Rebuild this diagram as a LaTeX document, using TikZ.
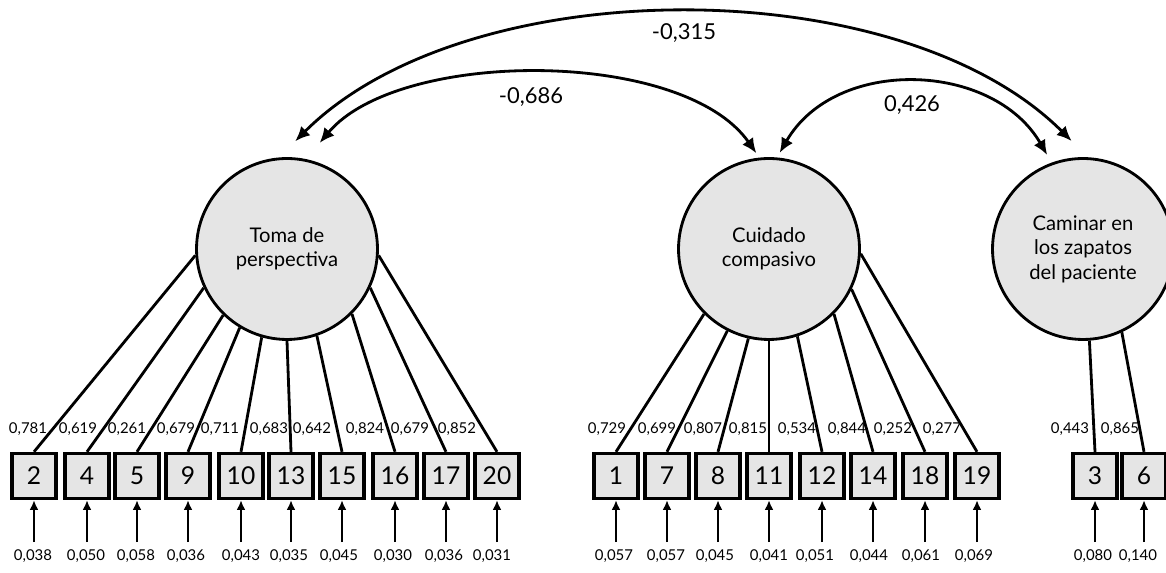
\documentclass[tikz,border=0pt]{standalone}
\usepackage{fontspec}
\setmainfont{Lato}
\usetikzlibrary{arrows.meta}

\begin{document}
\begin{tikzpicture}[x=0.02cm,y=0.02cm,
		factor/.style={circle,draw,line width=1.6pt,fill=gray!20,minimum size=3.62cm,inner sep=0pt,align=center,font=\fontsize{11.5}{14}\selectfont},
		item/.style={rectangle,draw,line width=1.9pt,fill=gray!20,minimum width=0.88cm,minimum height=0.9cm,inner sep=0pt,font=\fontsize{14}{16}\selectfont},
		coef/.style={font=\fontsize{8.5}{10}\selectfont,inner sep=1pt},
		corr/.style={line width=1.6pt,{Latex[length=8.5pt,width=7.5pt]}-{Latex[length=8.5pt,width=7.5pt]}},
		err/.style={line width=1.5pt,-{Latex[length=5.5pt,width=5pt]}}]
		\useasboundingbox (0,0) rectangle (1166,573);
		\clip (0,0) rectangle (1166,573);
		% factores latentes
		\node[factor] (tp) at (287,324) {Toma de\\perspectiva};
		\node[factor] (cc) at (769,324) {Cuidado\\compasivo};
		\node[factor] (cz) at (1083,324) {Caminar en\\los zapatos\\del paciente};
		% correlaciones
		\draw[corr,shorten <=13,shorten >=13] (tp.95) .. controls +(45:266) and +(135:266) .. (cz.87);
		\draw[corr,shorten <=12,shorten >=3] (tp.78) .. controls +(50:144) and +(125:134) .. (cc.96);
		\draw[corr,shorten <=3,shorten >=5] (cc.85) .. controls +(60:117) and +(120:117) .. (cz.110);
		\node[font=\fontsize{12.5}{14}\selectfont] (r1) at (684,540) {-0,315};
		\node[font=\fontsize{12.5}{14}\selectfont] (r2) at (531,476) {-0,686};
		\node[font=\fontsize{12.5}{14}\selectfont] (r3) at (912,468) {0,426};
		% items, cargas y errores
		\foreach \n/\f/\bx/\ang/\lx/\lv/\ex/\ev in {
				2/tp/34/184/28/{0,781}/33/{0,038},
				4/tp/87/205/78/{0,619}/86/{0,050},
				5/tp/137/226/127/{0,261}/136/{0,058},
				9/tp/188/239/176/{0,679}/186/{0,036},
				10/tp/241/254/220/{0,711}/241/{0,043},
				13/tp/291/270/269/{0,683}/289/{0,035},
				15/tp/342/289/312/{0,642}/339/{0,045},
				16/tp/395/315/365/{0,824}/393/{0,030},
				17/tp/446/335/410/{0,679}/444/{0,036},
				20/tp/497/356/457/{0,852}/492/{0,031},
				1/cc/616/225/607/{0,729}/614/{0,057},
				7/cc/667/243/657/{0,699}/666/{0,057},
				8/cc/718/257/703/{0,807}/715/{0,045},
				11/cc/769/270/748/{0,815}/769/{0,041},
				12/cc/822/288/797/{0,534}/815/{0,051},
				14/cc/873/315/847/{0,844}/869/{0,044},
				18/cc/925/334/893/{0,252}/921/{0,061},
				19/cc/977/357/942/{0,277}/974/{0,069},
				3/cz/1095/274/1070/{0,443}/1093/{0,080},
				6/cz/1144/295/1120/{0,865}/1138/{0,140}} {
				\node[item] (i\n) at (\bx,97) {\n};
				\draw[line width=1.6pt] (\f.\ang) -- (i\n.north);
				\node[coef] (l\n) at (\lx,144) {\lv};
				\node[coef] (e\n) at (\ex,17) {\ev};
				\draw[err,shorten <=3pt] (i\n.south |- e\n.north) -- (i\n.south);
			}
	\end{tikzpicture}
\end{document}
